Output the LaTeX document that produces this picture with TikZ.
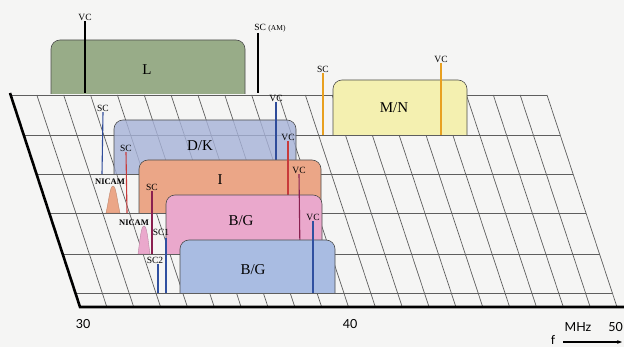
\documentclass[tikz,border=0pt]{standalone}
\usepackage{fontspec}
\setmainfont{Liberation Serif}
\newfontfamily\axisfont{Lato}
\usetikzlibrary{arrows.meta}
\definecolor{bgc}{HTML}{F5F5F4}
\definecolor{gridc}{HTML}{5E5E5E}
\definecolor{cgreen}{HTML}{98AC88}
\definecolor{cyellow}{HTML}{F4F0B0}
\definecolor{cdk}{HTML}{A6B2D8}
\definecolor{corange}{HTML}{EBA687}
\definecolor{cpink}{HTML}{EAA8CC}
\definecolor{cbg}{HTML}{A9BCE2}
\definecolor{lorange}{HTML}{E8A020}
\definecolor{lblue}{HTML}{2F4C9A}
\definecolor{lred}{HTML}{C83A3A}
\definecolor{lmag}{HTML}{8A2050}
\definecolor{lbg}{HTML}{3050A0}
\newcommand\chanbox[5]{%
  \filldraw[boxedge, fill=#5, rounded corners=9pt] (#1,#4) -- (#1,#3) -- (#2,#3) -- (#2,#4);}
\tikzset{
  gridline/.style={draw=gridc, line width=0.7pt},
  axisline/.style={draw=black, line width=2.6pt},
  boxedge/.style={draw=gray!60!black, line width=0.6pt},
  carr/.style={line width=1.1pt},
  clab/.style={inner sep=0.8pt, font=\fontsize{9.5}{9.5}\selectfont},
  nlab/.style={inner sep=0.5pt, font=\bfseries\fontsize{8.5}{8.5}\selectfont},
  blab/.style={inner sep=0pt, font=\fontsize{15}{15}\selectfont},
  alab/.style={inner sep=0pt, font=\axisfont\fontsize{12.5}{12.5}\selectfont},
}
\begin{document}
\begin{tikzpicture}[x=1pt,y=-1pt]
\useasboundingbox (0,0) rectangle (624,347);
\fill[bgc] (0,0) rectangle (624,347);

% grid
\foreach \yy in {95,135,174,213,254,293}
  \draw[gridline] ({10+0.3302*(\yy-95)},\yy) -- ({547+0.3302*(\yy-95)},\yy);
\foreach \k in {1,...,20}
  \draw[gridline] ({10+26.85*\k},95) -- ({80+26.85*\k},307);
\draw[axisline] (10,93) -- (80,307) -- (630,307);

% L
\chanbox{51}{245}{40}{94}{cgreen}
\node[blab] (lname) at (147,70) {L};
\node[clab] (lvc) at (85,17) {VC};
\draw[carr, black] (lvc.south) -- (85,93);
\node[clab] (lsc) at (270,28) {SC \fontsize{7.5}{7.5}\selectfont(AM)};
\coordinate (lscb) at (258,93);
\draw[carr, black] (lscb |- lsc.south) -- (lscb);

% M/N
\chanbox{333}{467}{80}{135}{cyellow}
\node[blab] (mnname) at (394,108) {M/N};
\node[clab] (mnsc) at (323,69) {SC};
\draw[carr, lorange] (mnsc.south) -- (323,135);
\node[clab] (mnvc) at (441,59) {VC};
\draw[carr, lorange] (mnvc.south) -- (441,135);

% D/K
\begin{scope}[fill opacity=0.8]
\chanbox{114}{296}{120}{174}{cdk}
\end{scope}
\node[blab] (dkname) at (200,146) {D/K};
\node[clab] (dksc) at (103,108) {SC};
\draw[carr, lblue] (dksc.south) -- (102,174);
\node[clab] (dkvc) at (276,98) {VC};
\draw[carr, lblue] (dkvc.south) -- (276,174);

% I
\chanbox{139}{321}{160}{213}{corange}
\node[blab] (iname) at (220,180) {I};
\fill[corange, draw=corange!80!black, line width=0.4pt] (106,213) .. controls (109,200) and (110,186) .. (113,186) .. controls (116,186) and (117,200) .. (120,213) -- cycle;
\node[nlab] (inic) at (110,182) {NICAM};
\node[clab] (isc) at (126,148) {SC};
\draw[carr, lred] (isc.south) -- (127,213);
\node[clab] (ivc) at (288,137) {VC};
\draw[carr, lred] (ivc.south) -- (288,213);

% B/G (pink)
\chanbox{166}{322}{195}{254}{cpink}
\node[blab] (pgname) at (241,221) {B/G};
\fill[cpink, draw=cpink!80!black, line width=0.4pt] (138,254) .. controls (140,240) and (141,226) .. (144,226) .. controls (147,226) and (148,240) .. (150,254) -- cycle;
\node[nlab] (pnic) at (134,223) {NICAM};
\node[clab] (psc) at (152,187) {SC};
\draw[carr, lmag] (psc.south) -- (152,254);
\node[clab] (pvc) at (299,170) {VC};
\draw[carr, lmag] (pvc.south) -- (300,254);

% B/G (blue)
\chanbox{180}{335}{240}{293}{cbg}
\node[blab] (bgname) at (253,270) {B/G};
\node[clab] (bsc1) at (161,232) {SC1};
\draw[carr, lbg] (166,238) -- (166,293);
\node[clab] (bsc2) at (155,260) {SC2};
\draw[carr, lbg] (bsc2.south -| 158,0) -- (158,293);
\node[clab] (bvc) at (313,217) {VC};
\draw[carr, lbg] (bvc.south) -- (313,293);

% axis labels
\node[alab] (a30) at (83,324) {30};
\node[alab] (a40) at (350,324) {40};
\node[alab] (amhz) at (578,327) {MHz};
\node[alab, anchor=east] (a50) at (623,327) {50};
\node[alab] (fl) at (553,340) {f};
\coordinate (fend) at (622,342);
\draw[line width=1.2pt, -{Stealth[length=5pt]}] (563,342) -- (fend);
\end{tikzpicture}
\end{document}
